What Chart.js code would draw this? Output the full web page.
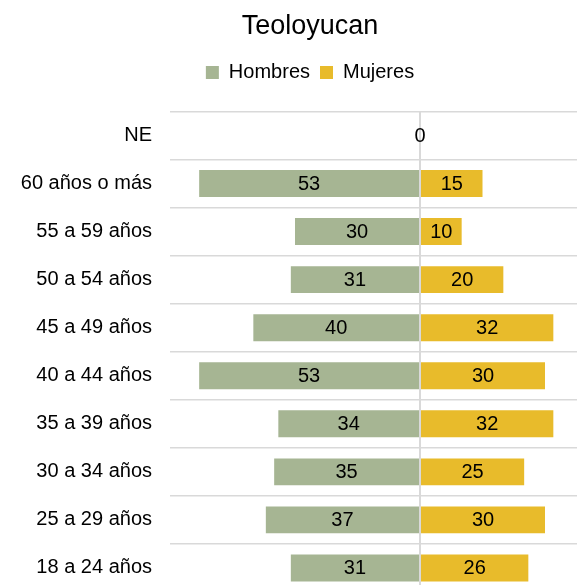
<!DOCTYPE html>
<html>
<head>
<meta charset="utf-8">
<script src="https://cdn.jsdelivr.net/npm/chart.js@4"></script>
<style>
  html, body { margin: 0; padding: 0; background: #fff; overflow: hidden; }
  #wrap { width: 620px; height: 622px; }
</style>
</head>
<body>
<div id="wrap"><canvas id="pyramid" width="620" height="622"></canvas></div>
<script>
// categories top to bottom
const grupos = ['NE', '60 años o más', '55 a 59 años', '50 a 54 años', '45 a 49 años',
  '40 a 44 años', '35 a 39 años', '30 a 34 años', '25 a 29 años', '18 a 24 años'];
const hombres = [0, 53, 30, 31, 40, 53, 34, 35, 37, 31];
const mujeres = [0, 15, 10, 20, 32, 30, 32, 25, 30, 26];

const fontFamily = '"Liberation Sans", Arial, sans-serif';

// value labels in the middle of each bar
const barLabels = {
  id: 'barLabels',
  afterDatasetsDraw(chart) {
    const ctx = chart.ctx;
    ctx.save();
    ctx.font = '20px ' + fontFamily;
    ctx.fillStyle = '#000';
    ctx.textAlign = 'center';
    ctx.textBaseline = 'middle';
    chart.data.datasets.forEach((ds, i) => {
      chart.getDatasetMeta(i).data.forEach((bar, j) => {
        const v = ds.data[j];
        if (i === 1 && v === 0) return; // only one "0" for NE
        ctx.fillText(Math.abs(v), (bar.x + bar.base) / 2, bar.y + 1);
      });
    });
    ctx.restore();
  }
};

// extra room under the legend
const legendGap = {
  id: 'legendGap',
  beforeInit(chart) {
    const fit = chart.legend.fit;
    chart.legend.fit = function () {
      fit.bind(chart.legend)();
      this.height += 19;
    };
  }
};

new Chart(document.getElementById('pyramid'), {
  type: 'bar',
  data: {
    labels: grupos,
    datasets: [
      {
        label: 'Hombres',
        data: hombres.map(v => -v),
        backgroundColor: '#a6b593',
        borderWidth: 0,
        barPercentage: 0.56,
        categoryPercentage: 1
      },
      {
        label: 'Mujeres',
        data: mujeres,
        backgroundColor: '#e8bb2b',
        borderWidth: 0,
        barPercentage: 0.56,
        categoryPercentage: 1
      }
    ]
  },
  options: {
    indexAxis: 'y',
    responsive: false,
    animation: false,
    layout: { padding: { left: 0, right: 0, top: 0, bottom: 8 } },
    scales: {
      x: {
        stacked: true,
        min: -60,
        max: 48,
        z: 1,
        ticks: { display: false, stepSize: 10 },
        border: { display: false },
        grid: {
          drawTicks: false,
          lineWidth: 2,
          color: c => (c.tick && c.tick.value === 0 ? '#d9d9d9' : 'rgba(0,0,0,0)')
        }
      },
      y: {
        stacked: true,
        afterFit: s => { s.width = 170; },
        border: { display: false },
        grid: { drawTicks: false, color: '#d9d9d9', lineWidth: 1.5 },
        ticks: {
          padding: 18,
          color: '#000',
          font: { family: fontFamily, size: 20 }
        }
      }
    },
    plugins: {
      title: {
        display: true,
        text: 'Teoloyucan',
        color: '#000',
        font: { family: fontFamily, size: 27, weight: 'normal' },
        padding: { top: 10, bottom: 10 }
      },
      legend: {
        display: true,
        labels: {
          color: '#000',
          font: { family: fontFamily, size: 20 },
          boxWidth: 13,
          boxHeight: 13,
          padding: 10
        }
      },
      tooltip: { enabled: false }
    }
  },
  plugins: [barLabels, legendGap]
});
</script>
</body>
</html>
